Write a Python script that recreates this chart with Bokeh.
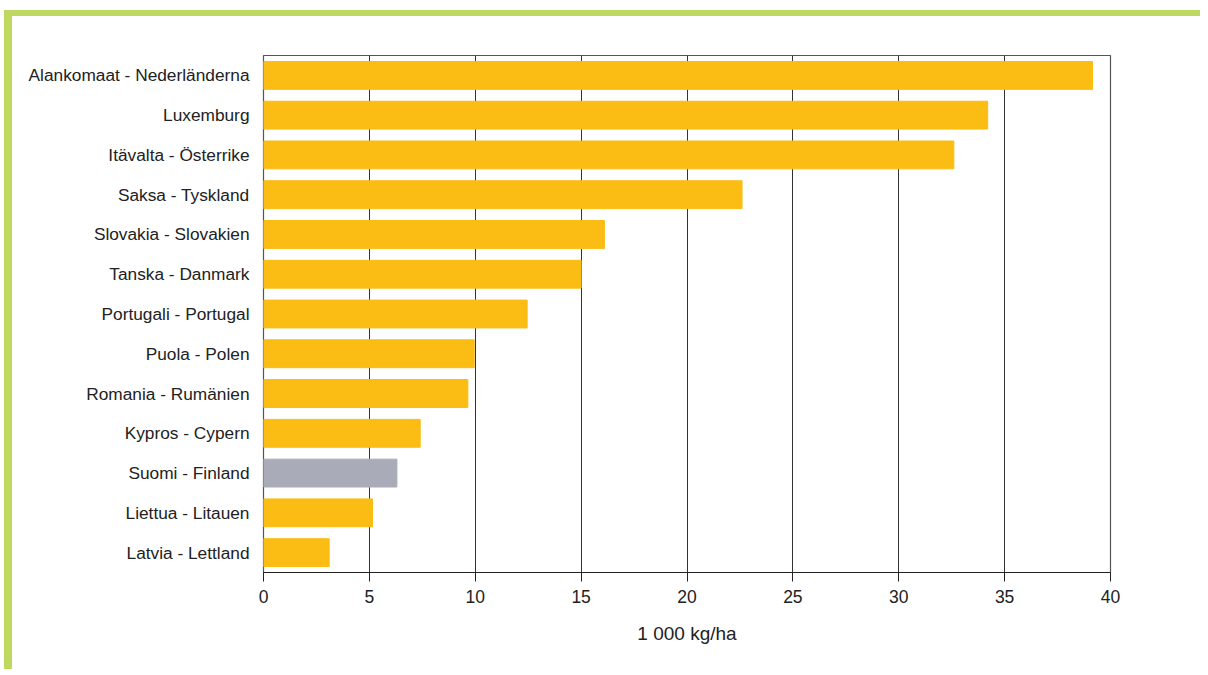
from bokeh.plotting import figure
from bokeh.models import ColumnDataSource, FixedTicker, Range1d, FactorRange
from bokeh.embed import file_html
from bokeh.resources import INLINE

countries = [
    "Alankomaat - Nederländerna",
    "Luxemburg",
    "Itävalta - Österrike",
    "Saksa - Tyskland",
    "Slovakia - Slovakien",
    "Tanska - Danmark",
    "Portugali - Portugal",
    "Puola - Polen",
    "Romania - Rumänien",
    "Kypros - Cypern",
    "Suomi - Finland",
    "Liettua - Litauen",
    "Latvia - Lettland",
]
values = [39.15, 34.2, 32.6, 22.6, 16.1, 15.0, 12.45, 9.95, 9.65, 7.4, 6.3, 5.15, 3.1]
highlight = "Suomi - Finland"
x_ticks = [0, 5, 10, 15, 20, 25, 30, 35, 40]
x_label = "1 000 kg/ha"

colors = ["#A9ACB8" if c == highlight else "#FBBC13" for c in countries]
source = ColumnDataSource(dict(country=countries, value=values, color=colors))

FONT = "Liberation Sans"

p = figure(
    width=1196, height=659,
    y_range=FactorRange(factors=list(reversed(countries)), range_padding=0),
    x_range=Range1d(0, 40),
    output_backend="svg", toolbar_location=None,
    min_border_left=251, min_border_top=39, min_border_right=98, min_border_bottom=103,
)
p.styles = {
    "border-top": "6px solid #BED862",
    "border-left": "8px solid #BED862",
    "margin-top": "10px",
    "margin-left": "4px",
}

p.hbar(y="country", right="value", left=0, height=0.7, color="color", source=source)

p.outline_line_color = "#555555"
p.outline_line_width = 1.2
p.background_fill_color = "white"
p.border_fill_color = "white"

p.ygrid.grid_line_color = None
p.xgrid.grid_line_color = "#333333"
p.xgrid.grid_line_width = 1
p.xgrid.ticker = FixedTicker(ticks=x_ticks)

p.xaxis.ticker = FixedTicker(ticks=x_ticks)
p.xaxis.axis_line_color = "#222222"
p.xaxis.major_tick_line_color = "#222222"
p.xaxis.major_tick_out = 9
p.xaxis.major_tick_in = 0
p.xaxis.minor_tick_line_color = None
p.xaxis.major_label_text_font = FONT
p.xaxis.major_label_text_font_size = "17.5px"
p.xaxis.major_label_text_color = "#222222"
p.xaxis.major_label_standoff = 8
p.xaxis.axis_label = x_label
p.xaxis.axis_label_text_font = FONT
p.xaxis.axis_label_text_font_size = "19px"
p.xaxis.axis_label_text_font_style = "normal"
p.xaxis.axis_label_text_color = "#222222"
p.xaxis.axis_label_standoff = 17

p.yaxis.axis_line_color = None
p.yaxis.major_tick_line_color = None
p.yaxis.minor_tick_line_color = None
p.yaxis.major_label_text_font = FONT
p.yaxis.major_label_text_font_size = "17.3px"
p.yaxis.major_label_text_color = "#222222"
p.yaxis.major_label_standoff = 8

open("out.html", "w").write(file_html(p, INLINE))
